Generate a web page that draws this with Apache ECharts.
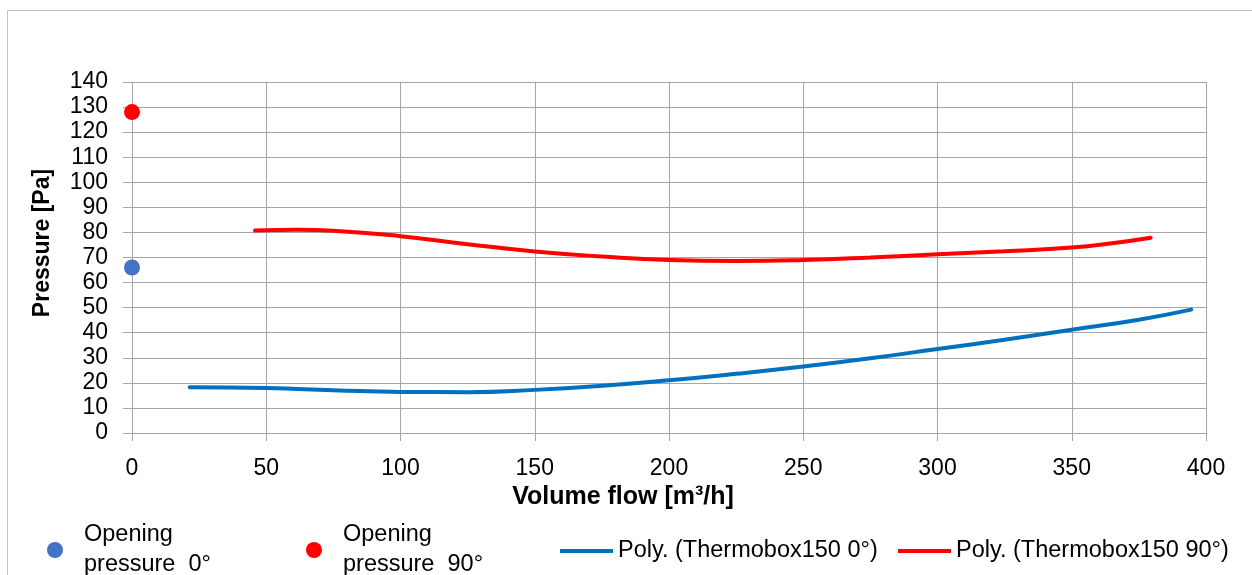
<!DOCTYPE html>
<html>
<head>
<meta charset="utf-8">
<script src="https://cdn.jsdelivr.net/npm/echarts@6/dist/echarts.min.js"></script>
<style>
html,body{margin:0;padding:0;background:#fff;}
#chart{width:1252px;height:575px;}
</style>
</head>
<body>
<div id="chart"></div>
<script>
// ---- data ----
const seriesNames = ['Opening pressure  0°', 'Opening pressure  90°', 'Poly. (Thermobox150 0°)', 'Poly. (Thermobox150 90°)'];
const opening0 = [[0, 66]];
const opening90 = [[0, 128]];
const poly0 = [[21.5,18.2],[50,17.9],[75,17.1],[100,16.4],[125,16.3],[150,17.2],[175,18.8],[200,21],[225,23.6],[250,26.5],[275,29.8],[300,33.5],[325,37.2],[350,41.2],[375,45.2],[394.5,49.2]];
const poly90 = [[45.8,80.8],[62,81.1],[75,80.7],[100,78.5],[125,75.3],[150,72.4],[175,70.4],[200,69],[225,68.6],[250,69],[275,70],[300,71.3],[325,72.5],[350,74],[365,75.7],[379.4,77.9]];
const xAxisRange = [0, 400, 50];
const yAxisRange = [0, 140, 10];
const xTitle = 'Volume flow [m³/h]';
const yTitle = 'Pressure [Pa]';

const FONT = '"Liberation Sans", Arial, sans-serif';
const GRID = '#a6a6a6';
const chart = echarts.init(document.getElementById('chart'));

function legendFor(name, left, top, isDot) {
  return {
    data: [name],
    left: left, top: top,
    orient: 'horizontal',
    icon: isDot ? 'circle' : 'rect',
    itemWidth: isDot ? 16 : 53,
    itemHeight: isDot ? 16 : 4,
    selectedMode: false,
    padding: 0,
    formatter: n => n.replace('Opening ', 'Opening\n'),
    textStyle: {
      fontFamily: FONT, fontSize: 23.5, color: '#000',
      lineHeight: 30,
      padding: isDot ? [0, 0, 0, 16] : [0, 0, 0, 0]
    }
  };
}

chart.setOption({
  backgroundColor: '#fff',
  animation: false,
  graphic: [{
    type: 'rect', silent: true, z: -1,
    shape: { x: 7.5, y: 10.5, width: 1400, height: 800 },
    style: { fill: 'none', stroke: '#bfbfbf', lineWidth: 1 }
  }],
  grid: { left: 132, right: 46, top: 82, bottom: 142, containLabel: false },
  legend: [
    legendFor(seriesNames[0], 47, 520, true),
    legendFor(seriesNames[1], 306, 520, true),
    legendFor(seriesNames[2], 560, 536, false),
    legendFor(seriesNames[3], 898, 536, false)
  ],
  xAxis: {
    type: 'value', min: xAxisRange[0], max: xAxisRange[1], interval: xAxisRange[2],
    name: xTitle, nameLocation: 'middle', nameGap: 51,
    nameTextStyle: { fontFamily: FONT, fontSize: 25, fontWeight: 'bold', color: '#000', verticalAlign: 'top',
      padding: [0, 92, 0, 0] },
    axisLine: { show: true, lineStyle: { color: GRID, width: 1 } },
    axisTick: { show: true, length: 8, lineStyle: { color: GRID } },
    axisLabel: { fontFamily: FONT, fontSize: 23, color: '#000', margin: 24 },
    splitLine: { show: true, lineStyle: { color: GRID, width: 1 } }
  },
  yAxis: {
    type: 'value', min: yAxisRange[0], max: yAxisRange[1], interval: yAxisRange[2],
    name: yTitle, nameLocation: 'middle', nameGap: 78, nameRotate: 90,
    nameTextStyle: { fontFamily: FONT, fontSize: 23, fontWeight: 'bold', color: '#000',
      padding: [0, 0, 0, 29] },
    axisLine: { show: true, lineStyle: { color: GRID, width: 1 } },
    axisTick: { show: true, length: 9, lineStyle: { color: GRID } },
    axisLabel: { fontFamily: FONT, fontSize: 23, color: '#000', margin: 24 },
    splitLine: { show: true, lineStyle: { color: GRID, width: 1 } }
  },
  series: [
    { name: seriesNames[0], type: 'scatter', data: opening0, symbol: 'circle', symbolSize: 16,
      itemStyle: { color: '#4472c4', opacity: 1 }, clip: false, z: 5 },
    { name: seriesNames[1], type: 'scatter', data: opening90, symbol: 'circle', symbolSize: 16,
      itemStyle: { color: '#ff0000', opacity: 1 }, clip: false, z: 5 },
    { name: seriesNames[2], type: 'line', data: poly0, smooth: true, showSymbol: false, symbol: 'none',
      lineStyle: { color: '#0070c0', width: 4, cap: 'round' }, itemStyle: { color: '#0070c0' } },
    { name: seriesNames[3], type: 'line', data: poly90, smooth: true, showSymbol: false, symbol: 'none',
      lineStyle: { color: '#ff0000', width: 4, cap: 'round' }, itemStyle: { color: '#ff0000' } }
  ]
});
</script>
</body>
</html>
